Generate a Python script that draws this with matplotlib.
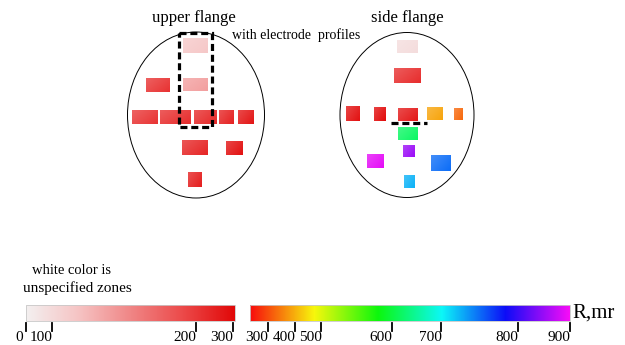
import matplotlib.pyplot as plt
import numpy as np
from matplotlib.patches import Ellipse, Rectangle
from matplotlib.colors import LinearSegmentedColormap, hsv_to_rgb

# skala lewa (0-300) i prawa (300-900), wartosci R w mr
low_ticks = [0, 100, 200, 300]
low_frac = [0.0, 0.124, 0.813, 0.99]
high_ticks = [300, 400, 500, 600, 700, 800, 900]
high_frac = [0.056, 0.141, 0.222, 0.444, 0.597, 0.838, 1.0]

# prostokaty: x0, y0, szerokosc, wysokosc (piksele schematu), wartosc R
upper_x = [183, 146, 183, 132, 160, 194, 219, 238, 182, 226, 188]
upper_y = [38, 78, 78, 110, 110, 110, 110, 110, 140, 141, 172]
upper_w = [25, 24, 25, 26, 31, 23, 15, 16, 26, 17, 14]
upper_h = [15, 14, 13, 14, 14, 14, 14, 14, 15, 14, 15]
upper_r = [115, 215, 140, 210, 225, 235, 250, 275, 240, 285, 255]

side_x = [397, 394, 346, 374, 398, 427, 454, 398, 403, 367, 431, 404]
side_y = [40, 68, 106, 107, 108, 107, 108, 127, 145, 154, 155, 175]
side_w = [21, 27, 14, 12, 20, 16, 9, 20, 12, 17, 20, 11]
side_h = [13, 15, 15, 14, 13, 13, 12, 13, 12, 14, 16, 13]
side_r = [90, 225, 285, 295, 270, 390, 330, 620, 850, 890, 750, 725]

low_cmap = LinearSegmentedColormap.from_list(
    'low', ['#f3f0f0', '#f6c4c4', '#f08686', '#ec4a4a', '#e10808'])
hues = np.linspace(0, 300 / 360, 256)
high_cmap = LinearSegmentedColormap.from_list(
    'high', hsv_to_rgb(np.column_stack([hues, np.full(256, 0.95), np.full(256, 0.97)])))


def r_color(r):
    # kolor wedlug wartosci R: do 300 skala biało-czerwona, powyzej tęcza
    if r <= 300:
        return np.array(low_cmap(np.interp(r, low_ticks, low_frac)))[:3]
    return np.array(high_cmap(np.interp(r, high_ticks, high_frac)))[:3]


def draw_box(ax, x, y, w, h, r):
    # lekki gradient: jasniej w lewym gornym rogu
    c = r_color(r)
    gx, gy = np.meshgrid(np.linspace(0, 1, 20), np.linspace(0, 1, 12))
    t = (0.22 * (1 - 0.6 * gx - 0.4 * gy))[..., None]
    img = c * (1 - t) + t
    ax.imshow(img, extent=[x, x + w, y + h, y], aspect='auto', interpolation='bilinear')


plt.rcParams['font.family'] = 'Liberation Serif'
fig = plt.figure(figsize=(6.25, 3.45), dpi=100)
ax = fig.add_axes([0, 0, 1, 1])
ax.axis('off')

ax.add_patch(Ellipse((196, 115), 137, 166, fill=False, lw=0.7, ec='black'))
ax.add_patch(Ellipse((407, 115), 134, 165, fill=False, lw=0.7, ec='black'))

for x, y, w, h, r in zip(upper_x, upper_y, upper_w, upper_h, upper_r):
    draw_box(ax, x, y, w, h, r)
for x, y, w, h, r in zip(side_x, side_y, side_w, side_h, side_r):
    draw_box(ax, x, y, w, h, r)

# obszar profili elektrod
ax.add_patch(Rectangle((179, 33), 33, 94, fill=False, ec='black', lw=2.3,
                       ls=(0, (2.2, 1.2)), zorder=5))
ax.plot([391, 427], [123, 123], color='black', lw=2.3, ls=(0, (2.2, 1.2)), zorder=5)

ax.text(194, 18, 'upper flange', ha='center', va='center', fontsize=12)
ax.text(407, 18, 'side flange', ha='center', va='center', fontsize=12)
ax.text(232, 35, 'with electrode  profiles', ha='left', va='center', fontsize=10)

ax.text(72, 270, 'white color is', ha='center', va='center', fontsize=10.5)
ax.text(77, 288, 'unspecified zones', ha='center', va='center', fontsize=11)

grad = np.linspace(0, 1, 256).reshape(1, -1)
bars = [(26, 235, low_cmap, low_ticks, low_frac),
        (250, 570, high_cmap, high_ticks, high_frac)]
for x0, x1, cmap, ticks, frac in bars:
    ax.imshow(grad, cmap=cmap, extent=[x0, x1, 321, 305], aspect='auto')
    ax.add_patch(Rectangle((x0, 305), x1 - x0, 16, fill=False, ec='#c8c8c8', lw=0.6))
    for t, f in zip(ticks, frac):
        tx = x0 + f * (x1 - x0)
        if t == 0:
            tx -= 4  # "0" odsuniete w lewo od "100"
        ax.plot([x0 + f * (x1 - x0)] * 2, [323, 331], color='black', lw=1.3)
        ax.text(tx + 0.5, 337.5, str(t), ha='right', va='center', fontsize=11)

ax.text(572, 313, 'R,mr', ha='left', va='center', fontsize=15)
ax.set_xlim(0, 625)
ax.set_ylim(345, 0)

fig.savefig('out.png', dpi=100)
